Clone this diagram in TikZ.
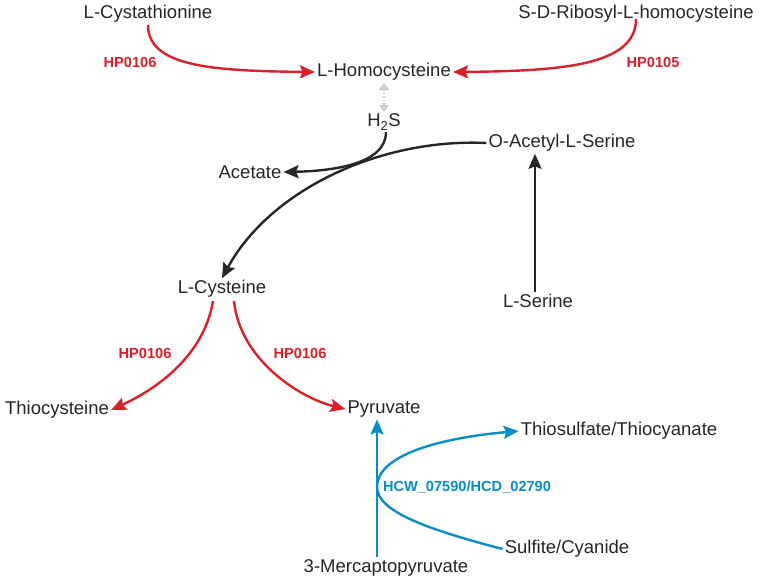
\documentclass[tikz,border=0pt]{standalone}
\usepackage{fontspec}
\setmainfont{Liberation Sans}
\usetikzlibrary{arrows.meta}

\definecolor{pathred}{RGB}{218,32,40}
\definecolor{pathblue}{RGB}{10,140,200}
\definecolor{pathgrey}{RGB}{205,205,205}
\definecolor{txtgrey}{RGB}{38,38,38}

\tikzset{
  metab/.style={inner sep=2pt, text=txtgrey, font=\fontsize{18.5}{21}\selectfont},
  enzred/.style={inner sep=0pt, text=pathred, font=\fontsize{14.6}{17}\selectfont\bfseries},
  enzblue/.style={inner sep=0pt, text=pathblue, font=\fontsize{14.6}{17}\selectfont\bfseries},
  rxn/.style={line width=2.4pt, -{Stealth[length=15pt,width=13pt,inset=2.5pt]}},
  redrxn/.style={rxn, draw=pathred},
  bluerxn/.style={rxn, draw=pathblue},
  blackrxn/.style={rxn, draw=txtgrey}
}

\begin{document}
\begin{tikzpicture}[x=1pt, y=-1pt]
        \useasboundingbox (0,0) rectangle (759,582);
        % metabolites
        \node[metab] (cysta) at (148,14) {L-Cystathionine};
        \node[metab] (ribos) at (636,14) {S-D-Ribosyl-L-homocysteine};
        \node[metab] (homoc) at (384,72) {L-Homocysteine};
        \node[metab] (hts) at (384,122) {H\textsubscript{2}S};
        \node[metab] (acet) at (250,172) {Acetate};
        \node[metab] (oacs) at (562,143) {O-Acetyl-L-Serine};
        \node[metab] (lcys) at (222,289) {L-Cysteine};
        \node[metab] (lser) at (538,301) {L-Serine};
        \node[metab] (thioc) at (57,410) {Thiocysteine};
        \node[metab] (pyru) at (384,409) {Pyruvate};
        \node[metab] (thios) at (619,431) {Thiosulfate/Thiocyanate};
        \node[metab] (sulf) at (567,549) {Sulfite/Cyanide};
        \node[metab] (merc) at (386,568) {3-Mercaptopyruvate};
        % enzymes
        \node[enzred] (enza) at (130,62) {HP0106};
        \node[enzred] (enzb) at (653,62) {HP0105};
        \node[enzred] (enzc) at (145,353) {HP0106};
        \node[enzred] (enzd) at (300,353) {HP0106};
        \node[enzblue] (enze) at (467,487) {HCW\_07590/HCD\_02790};
        \coordinate (bend) at (377,487);
        % reactions
        \draw[redrxn] (148,25) .. controls (148,66) and (210,71) .. (homoc.west);
        \draw[redrxn] (636,19) .. controls (636,66) and (560,71) .. (homoc.east);
        \draw[draw=pathgrey, line width=1.5pt, dotted, {Triangle[length=7pt,width=10pt]}-{Triangle[length=7pt,width=10pt]}] (homoc.south) -- (hts.north);
        \draw[blackrxn] (386,132) .. controls (386,165) and (330,171) .. (acet.east);
        \draw[blackrxn] (oacs.west) .. controls (380,138) and (270,190) .. (lcys.north);
        \draw[blackrxn] (lser.north -| 535,0) -- (oacs.south -| 535,0);
        \draw[redrxn] (213,301) .. controls (205,350) and (165,385) .. (thioc.east);
        \draw[redrxn] (234,301) .. controls (240,360) and (300,398) .. (pyru.west);
        \draw[bluerxn] (merc.north -| bend) -- (pyru.south -| bend);
        \draw[bluerxn] (sulf.west) .. controls (430,530) and (377,512) .. (bend) .. controls (377,455) and (440,438) .. (thios.west);
\end{tikzpicture}
\end{document}
